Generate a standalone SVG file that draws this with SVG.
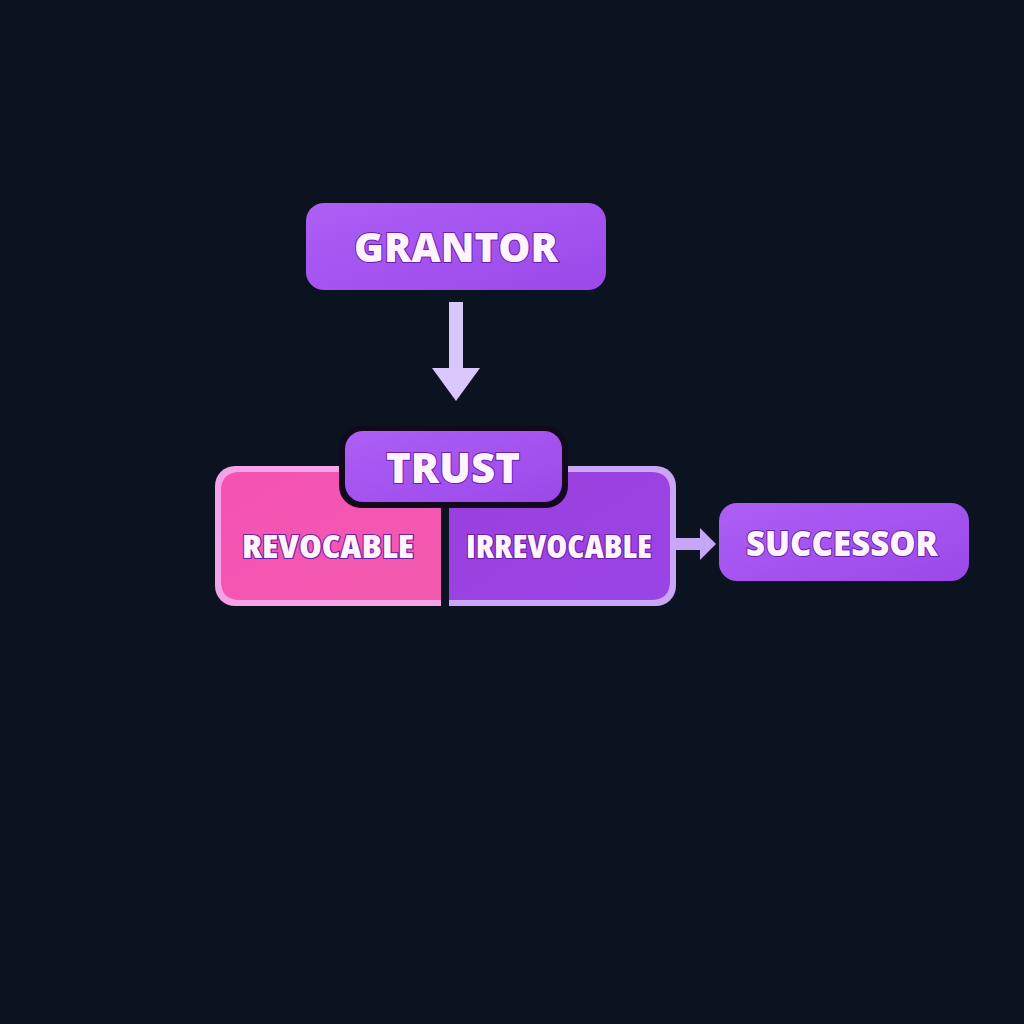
<svg xmlns="http://www.w3.org/2000/svg" width="1024" height="1024" viewBox="0 0 1024 1024">
<defs>
<style>
.lbl{font-family:"Open Sans","Liberation Sans",sans-serif;font-weight:800;fill:#fff4ff;stroke:#6a1fa8;stroke-width:2;paint-order:stroke;text-anchor:middle}
</style>
<linearGradient id="gPurple" x1="0" y1="0" x2="1" y2="1">
<stop offset="0" stop-color="#ad5ff5"/><stop offset="1" stop-color="#9c48ea"/>
</linearGradient>
<linearGradient id="gPink" x1="0" y1="0" x2="1" y2="1">
<stop offset="0" stop-color="#f552b5"/><stop offset="1" stop-color="#f35aae"/>
</linearGradient>
<linearGradient id="gIrr" x1="0" y1="0" x2="1" y2="1">
<stop offset="0" stop-color="#9a3fdd"/><stop offset="1" stop-color="#9a44e6"/>
</linearGradient>
<clipPath id="cl"><rect x="215" y="466" width="461" height="140" rx="20"/></clipPath>
</defs>
<rect width="1024" height="1024" fill="#0b1320"/>
<g id="connectors">
<path d="M449 302 H463 V368 H480 L456 401 L432 368 H449 Z" fill="#d9c6fb"/>
<path d="M676 538 H700 V528 L716 544 L700 560 V550 H676 Z" fill="#c6a6f7"/>
</g>
<g id="grantor">
<rect x="306" y="203" width="300" height="87" rx="18" fill="url(#gPurple)"/>
<text class="lbl" x="456" y="262" font-size="40" textLength="204" lengthAdjust="spacingAndGlyphs">GRANTOR</text>
</g>
<g id="trust-container">
<g clip-path="url(#cl)">
<rect x="215" y="466" width="230" height="140" fill="#f4a4e6"/>
<rect x="445" y="466" width="231" height="140" fill="#c9a6f6"/>
</g>
<path d="M240 472 H441 V600 H240 Q221 600 221 581 V491 Q221 472 240 472 Z" fill="url(#gPink)"/>
<path d="M449 472 H651 Q670 472 670 491 V581 Q670 600 651 600 H449 Z" fill="url(#gIrr)"/>
<rect x="441" y="466" width="8" height="142" fill="#0b1320"/>
</g>
<g id="revocable">
<text class="lbl" x="328" y="558" font-size="31" textLength="172" lengthAdjust="spacingAndGlyphs" style="font-stretch:condensed">REVOCABLE</text>
</g>
<g id="irrevocable">
<text class="lbl" x="559" y="558" font-size="31" textLength="186" lengthAdjust="spacingAndGlyphs" style="font-stretch:condensed">IRREVOCABLE</text>
</g>
<g id="trust">
<rect x="339" y="426" width="229" height="82" rx="22" fill="#120a1c"/>
<rect x="345" y="431" width="217" height="71" rx="18" fill="url(#gPurple)"/>
<text class="lbl" x="453" y="483" font-size="42" textLength="134" lengthAdjust="spacingAndGlyphs">TRUST</text>
</g>
<g id="successor">
<rect x="719" y="503" width="250" height="78" rx="18" fill="url(#gPurple)"/>
<text class="lbl" x="842" y="556" font-size="35" textLength="192" lengthAdjust="spacingAndGlyphs">SUCCESSOR</text>
</g>
</svg>
